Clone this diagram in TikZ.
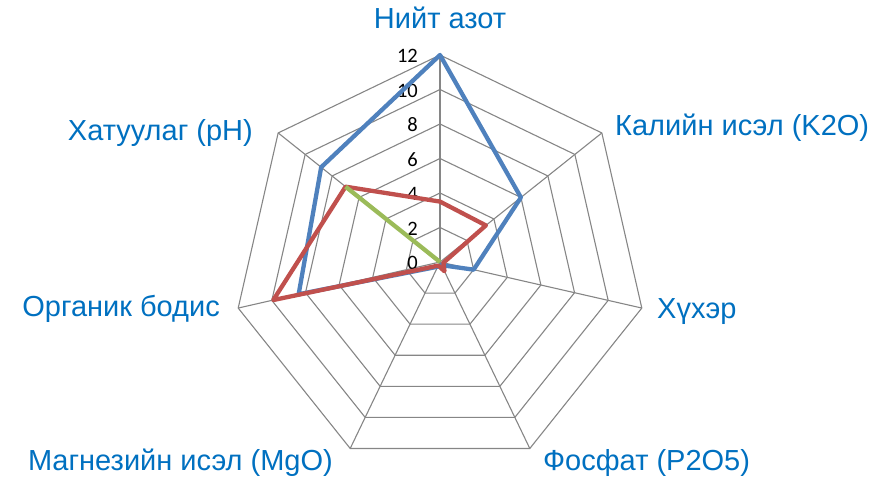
\documentclass[tikz,border=0pt]{standalone}
\usepackage{fontspec}
\setmainfont{Liberation Sans}
\newfontfamily\tickfont{Carlito}
\definecolor{lbl}{RGB}{0,112,192}
\definecolor{sblue}{RGB}{79,129,189}
\definecolor{sred}{RGB}{192,80,77}
\definecolor{sgreen}{RGB}{155,187,89}
\definecolor{gridc}{RGB}{134,134,134}
\tikzset{
  gridline/.style={draw=gridc, line width=1.1pt},
  series/.style={line width=4.3pt, line join=round},
  axlabel/.style={font=\fontsize{29}{31}\selectfont, text=lbl, inner sep=0pt},
  ticklabel/.style={font=\tickfont\fontsize{20.5}{21}\selectfont, text=black, inner sep=0pt, anchor=east}
}
\begin{document}
\begin{tikzpicture}[x=1pt,y=1pt]
\useasboundingbox (0,0) rectangle (877,479);
\begin{scope}[shift={(440,217)}]
  % rings
  \foreach \v in {2,4,...,12} {
    \draw[gridline] (90:{\v*17.25})
      \foreach \k in {1,...,6} { -- ({90-\k*360/7}:{\v*17.25}) } -- cycle;
  }
  % spokes
  \foreach \k in {0,...,6} {
    \draw[gridline] (0,0) -- ({90-\k*360/7}:207);
  }
  % tick labels
  \foreach \v in {0,2,...,12} {
    \node[ticklabel] (t\v) at (-22,{\v*17.25-1}) {\v};
  }
  % series
  \draw[series, sblue] (90:207) -- (38.571:103.5) -- (-12.857:34.5) -- (-64.286:3.5)
     -- (-115.714:5.2) -- (-167.143:145) -- (141.429:152) -- cycle;
  \draw[series, sred] (90:60.4) -- (38.571:58.7) -- (-12.857:3.5) -- (-64.286:10.3)
     -- (-115.714:4) -- (-167.143:171) -- (141.429:120.8) -- cycle;
  \draw[series, sgreen] (0,0) -- (141.429:120.8);
\end{scope}
% axis labels
\node[axlabel, anchor=base] (lN) at (440,450) {Нийт азот};
\node[axlabel, anchor=base west] (lK) at (615,343) {Калийн исэл (K2O)};
\node[axlabel, anchor=base west] (lS) at (657,160) {Хүхэр};
\node[axlabel, anchor=base west] (lP) at (543,9) {Фосфат (P2O5)};
\node[axlabel, anchor=base east] (lM) at (333,9) {Магнезийн исэл (MgO)};
\node[axlabel, anchor=base east] (lO) at (220,162) {Органик бодис};
\node[axlabel, anchor=base east] (lH) at (253,338) {Хатуулаг (pH)};
\end{tikzpicture}
\end{document}
